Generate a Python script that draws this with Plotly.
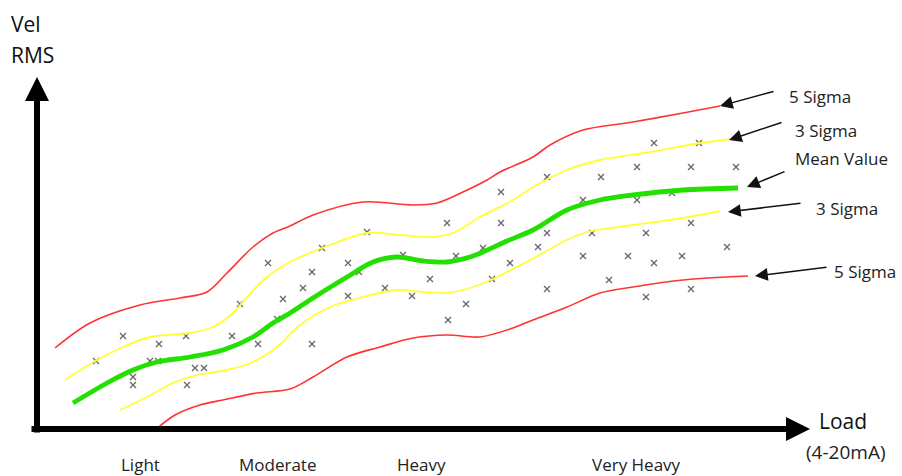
import plotly.graph_objects as go

# ---- curves (x = load position, y = vel RMS in drawing units, top = small) ----
red_hi_x = [55, 90, 140, 180, 207, 227, 253, 273, 290, 313, 363, 413, 437, 463, 487, 500, 533, 550, 583, 633, 683, 720]
red_hi_y = [348, 323, 305, 298, 292, 273, 247, 233, 226, 215, 202, 205, 203, 192, 180, 172, 157, 145, 130, 122, 113, 106]

yel_hi_x = [65, 97, 123, 150, 190, 213, 233, 247, 267, 290, 330, 367, 400, 430, 453, 480, 513, 533, 567, 600, 650, 700, 730]
yel_hi_y = [380, 360, 347, 337, 333, 327, 313, 297, 277, 262, 245, 233, 235, 237, 233, 217, 200, 187, 170, 160, 152, 143, 139]

mean_x = [73, 107, 133, 157, 190, 223, 253, 273, 290, 313, 347, 373, 397, 423, 447, 473, 507, 533, 567, 600, 633, 683, 738]
mean_y = [403, 383, 370, 362, 357, 350, 337, 323, 313, 298, 277, 262, 257, 261, 262, 256, 241, 230, 210, 200, 195, 190, 188]

yel_lo_x = [120, 147, 173, 197, 227, 253, 277, 300, 330, 363, 397, 423, 447, 473, 497, 530, 567, 587, 633, 683, 720]
yel_lo_y = [410, 397, 383, 375, 370, 362, 347, 325, 307, 297, 290, 292, 293, 287, 277, 260, 240, 232, 225, 218, 211]

red_lo_x = [155, 175, 200, 223, 257, 290, 313, 347, 380, 413, 447, 480, 513, 533, 567, 600, 633, 683, 748]
red_lo_y = [430, 415, 405, 400, 393, 389, 377, 357, 347, 338, 335, 337, 328, 320, 307, 293, 287, 280, 276]

# ---- sampled readings ----
obs_x = [96, 123, 133, 133, 150, 158, 159, 186, 187, 195, 204, 232, 240, 258, 268, 277, 283, 303,
         312, 312, 322, 348, 348, 359, 367, 385, 403, 412, 430, 447, 448, 456, 466, 483, 492, 501,
         501, 510, 538, 547, 547, 547, 583, 583, 592, 601, 609, 628, 637, 637, 646, 646, 654, 654,
         672, 682, 691, 691, 691, 699, 727, 736]
obs_y = [361, 336, 377, 385, 361, 361, 344, 336, 385, 368, 368, 336, 304, 344, 263, 319, 299, 288,
         272, 344, 248, 263, 296, 272, 232, 288, 255, 296, 279, 223, 320, 256, 304, 248, 279, 192,
         223, 263, 247, 177, 233, 289, 200, 256, 233, 177, 280, 256, 167, 200, 233, 297, 143, 263,
         193, 256, 167, 223, 289, 143, 247, 167]

# ---- labels ----
cat_labels = ["Light", "Moderate", "Heavy", "Very Heavy"]
cat_pos = [140, 277, 421, 636]

band_labels = ["5 Sigma", "3 Sigma", "Mean Value", "3 Sigma", "5 Sigma"]
band_text_x = [787, 793, 793, 814, 832]
band_text_y = [96, 130, 158, 208, 271]
band_tip_x = [720, 729, 747, 728, 755]
band_tip_y = [106, 140, 187, 212, 276]
band_tail_x = [775, 783, 786, 802, 828]
band_tail_y = [91, 122, 171, 203, 267]

FONT = "Open Sans"

fig = go.Figure()

fig.add_trace(go.Scatter(x=obs_x, y=obs_y, mode="markers",
                         marker=dict(symbol="x-thin", size=6, line=dict(color="#666666", width=1.3),
                                     color="#666666"),
                         hoverinfo="skip"))

line_style = [
    (red_hi_x, red_hi_y, "#ff3333", 1.6),
    (yel_hi_x, yel_hi_y, "#ffff33", 1.8),
    (yel_lo_x, yel_lo_y, "#ffff33", 1.8),
    (red_lo_x, red_lo_y, "#ff3333", 1.6),
    (mean_x, mean_y, "#22e000", 4.8),
]
for xs, ys, col, w in line_style:
    fig.add_trace(go.Scatter(x=xs, y=ys, mode="lines",
                             line=dict(color=col, width=w, shape="spline", smoothing=0.9),
                             hoverinfo="skip"))

annotations = []
# axes arrows
annotations.append(dict(x=37, y=77, ax=37, ay=434, xref="x", yref="y", axref="x", ayref="y",
                        text="", showarrow=True, arrowhead=2, arrowsize=0.8, arrowwidth=6,
                        arrowcolor="black"))
annotations.append(dict(x=810, y=429, ax=30, ay=429, xref="x", yref="y", axref="x", ayref="y",
                        text="", showarrow=True, arrowhead=2, arrowsize=0.8, arrowwidth=6,
                        arrowcolor="black"))

for lab, tx, ty, hx, hy, sx, sy in zip(band_labels, band_text_x, band_text_y,
                                        band_tip_x, band_tip_y, band_tail_x, band_tail_y):
    annotations.append(dict(x=hx, y=hy, ax=sx, ay=sy, xref="x", yref="y", axref="x", ayref="y",
                            text="", showarrow=True, arrowhead=2, arrowsize=1.7, arrowwidth=1.5,
                            arrowcolor="#111111"))
    annotations.append(dict(x=tx, y=ty, xref="x", yref="y", text=lab, showarrow=False,
                            xanchor="left", yanchor="middle",
                            font=dict(family=FONT, size=17, color="#222222")))

for lab, px in zip(cat_labels, cat_pos):
    annotations.append(dict(x=px, y=464, xref="x", yref="y", text=lab, showarrow=False,
                            xanchor="center", yanchor="middle",
                            font=dict(family=FONT, size=17, color="#222222")))

annotations.append(dict(x=9, y=24, xref="x", yref="y", text="Vel", showarrow=False,
                        xanchor="left", yanchor="middle",
                        font=dict(family=FONT, size=21, color="#111111")))
annotations.append(dict(x=9, y=55, xref="x", yref="y", text="RMS", showarrow=False,
                        xanchor="left", yanchor="middle",
                        font=dict(family=FONT, size=21, color="#111111")))
annotations.append(dict(x=817, y=421, xref="x", yref="y", text="Load", showarrow=False,
                        xanchor="left", yanchor="middle",
                        font=dict(family=FONT, size=21, color="#111111")))
annotations.append(dict(x=804, y=452, xref="x", yref="y", text="(4-20mA)", showarrow=False,
                        xanchor="left", yanchor="middle",
                        font=dict(family=FONT, size=19, color="#222222")))

fig.update_layout(
    width=902, height=476, autosize=False,
    margin=dict(l=0, r=0, t=0, b=0),
    paper_bgcolor="white", plot_bgcolor="white",
    showlegend=False,
    xaxis=dict(range=[0, 902], visible=False, fixedrange=True),
    yaxis=dict(range=[476, 0], visible=False, fixedrange=True),
    annotations=annotations,
)

fig.write_html("out.html", config={"displayModeBar": False},
               post_script="document.body.style.margin='0';document.body.style.overflow='hidden';")
